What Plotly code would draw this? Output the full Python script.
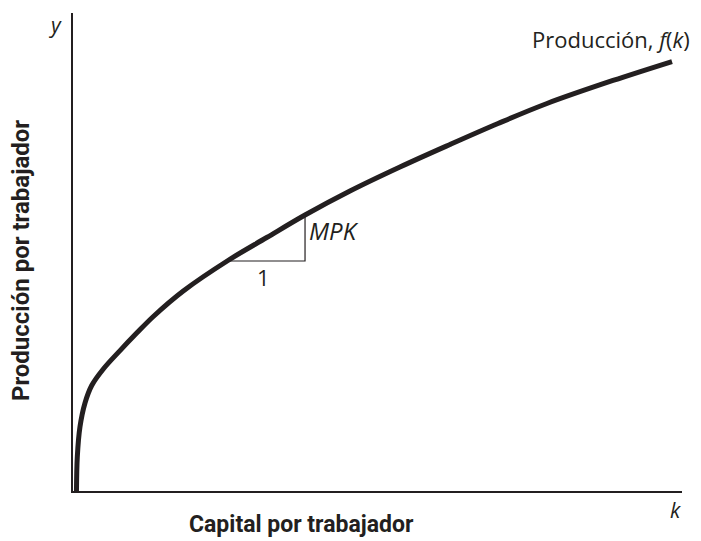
import plotly.graph_objects as go

# Production curve points (x: capital per worker, y: output per worker)
k_vals = [0.57, 0.71, 1.15, 1.97, 3.07, 4.98, 7.72, 10.46, 13.19, 18.11, 25.45, 31.81,
          38.10, 45.48, 53.69, 61.90, 69.79, 77.83, 88.67, 98.36]
y_vals = [0.0, 7.18, 13.45, 18.41, 22.07, 25.52, 29.37, 33.03, 36.51, 41.84, 48.22, 53.03,
          57.74, 62.76, 67.78, 72.49, 76.88, 81.07, 85.88, 89.85]

# MPK triangle corners
tri_x = [25.45, 38.10, 38.10]
tri_y = [48.12, 48.12, 57.32]

INK = "#231f20"
LABEL_FONT = "Open Sans, Lato, sans-serif"
TITLE_FONT = "Liberation Sans Narrow, Roboto, sans-serif"

fig = go.Figure()
fig.add_trace(go.Scatter(x=tri_x, y=tri_y, mode="lines",
                         line=dict(color=INK, width=1.2), hoverinfo="skip"))
fig.add_trace(go.Scatter(x=k_vals, y=y_vals, mode="lines",
                         line=dict(color=INK, width=5, shape="spline", smoothing=1.0),
                         hoverinfo="skip"))

ann = [
    dict(x=0, y=1.0, xref="paper", yref="paper", text="<i>y</i>", showarrow=False,
         xanchor="right", yanchor="top", xshift=-9, yshift=4,
         font=dict(family=LABEL_FONT, size=21, color=INK)),
    dict(x=1.0, y=0, xref="paper", yref="paper", text="<i>k</i>", showarrow=False,
         xanchor="center", yanchor="top", xshift=-7, yshift=-3,
         font=dict(family=LABEL_FONT, size=21, color=INK)),
    dict(x=98.36, y=89.85, text="Producción, <i>f</i>(<i>k</i>) ", showarrow=False,
         xanchor="right", yanchor="bottom", xshift=26, yshift=6,
         font=dict(family=LABEL_FONT, size=22, color=INK)),
    dict(x=38.10, y=57.32, text="<i>MPK</i>", showarrow=False,
         xanchor="left", yanchor="top", xshift=2, yshift=5,
         font=dict(family=LABEL_FONT, size=24, color=INK)),
    dict(x=31.2, y=48.12, text="1", showarrow=False,
         xanchor="center", yanchor="top", yshift=1,
         font=dict(family=LABEL_FONT, size=22, color=INK)),
    dict(x=0.375, y=0, xref="paper", yref="paper", text="<b>Capital por trabajador</b>",
         showarrow=False, xanchor="center", yanchor="top", yshift=-18,
         font=dict(family=TITLE_FONT, size=23, color=INK)),
    dict(x=0, y=0.481, xref="paper", yref="paper", text="<b>Producción por trabajador</b>",
         showarrow=False, textangle=-90, xanchor="center", yanchor="middle", xshift=-52,
         font=dict(family=TITLE_FONT, size=24, color=INK)),
]

# The page body adds an 8 px offset, so the figure is sized to 693x533 to
# land its plot area where the reference draws it.
fig.update_layout(
    width=693, height=533,
    margin=dict(l=65, r=19, t=5, b=50),
    paper_bgcolor="white", plot_bgcolor="white",
    showlegend=False,
    annotations=ann,
    xaxis=dict(range=[0, 100], showgrid=False, zeroline=False, showticklabels=False,
               ticks="", showline=True, linecolor=INK, linewidth=2, fixedrange=True),
    yaxis=dict(range=[0, 100], showgrid=False, zeroline=False, showticklabels=False,
               ticks="", showline=True, linecolor=INK, linewidth=2, fixedrange=True),
)

fig.write_html("out.html")
